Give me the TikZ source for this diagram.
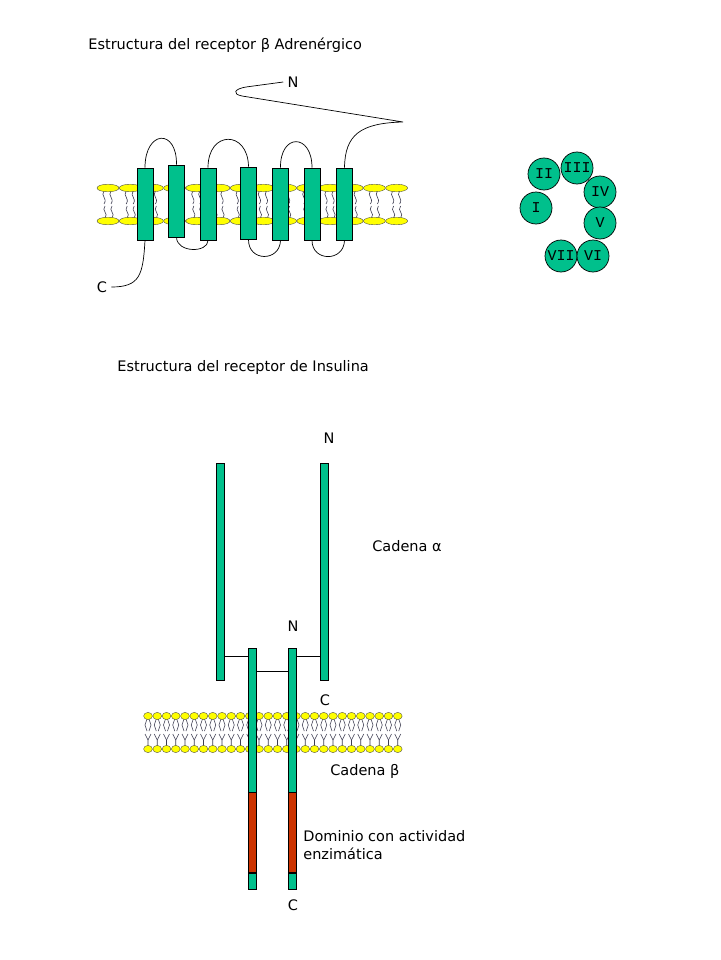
\documentclass[tikz,border=0pt]{standalone}
\usepackage{fontspec}
\setmainfont{DejaVu Sans}
\newfontfamily\numfont{Liberation Mono}
\usetikzlibrary{shapes,positioning}

\definecolor{tmgreen}{RGB}{0,192,140}
\definecolor{kinred}{RGB}{204,51,0}
\definecolor{lipid}{RGB}{255,255,0}
\definecolor{tailgray}{RGB}{60,60,80}

\begin{document}
\begin{tikzpicture}[x=1pt,y=-1pt,line width=0.7pt,
	helix/.style={draw=black,fill=tmgreen,minimum width=16pt,minimum height=72pt,inner sep=0pt},
	chain/.style={draw=black,fill=tmgreen,minimum width=8.5pt,inner sep=0pt},
	tmcircle/.style={draw=black,fill=tmgreen,circle,minimum size=32pt,inner sep=0pt,font=\numfont\fontsize{15}{15}\selectfont},
	head/.style={draw=black!70,fill=lipid,line width=0.4pt},
	tail/.style={draw=tailgray,line width=0.6pt},
	lbl/.style={font=\fontsize{14.5}{18}\selectfont,inner sep=0pt},
	endlbl/.style={lbl,inner sep=4pt}]
	\fill[white] (0,0) rectangle (720,960);
	\useasboundingbox (0,0) rectangle (720,960);

	%% the titles
	\node[lbl,anchor=west] (titleB) at (88,45) {Estructura del receptor β Adrenérgico};
	\node[lbl,anchor=west] (titleI) at (117,367) {Estructura del receptor de Insulina};

	% membrane of the beta receptor
	\foreach \i in {0,...,13}{
		\pgfmathsetmacro\hx{108+22.2*\i}
		\draw[tail] (\hx-4,191) .. controls (\hx-8,196) and (\hx,198) .. (\hx-4,204);
		\draw[tail] (\hx+3,191) .. controls (\hx-1,196) and (\hx+7,198) .. (\hx+3,204);
		\draw[tail] (\hx-3,218) .. controls (\hx+1,213) and (\hx-7,211) .. (\hx-3,206);
		\draw[tail] (\hx+4,218) .. controls (\hx+8,213) and (\hx,211) .. (\hx+4,206);
		\draw[head] (\hx,188) ellipse [x radius=11pt,y radius=3.8pt];
		\draw[head] (\hx,221) ellipse [x radius=11pt,y radius=3.8pt];
	}

	%% the seven helices
	\node[helix] (h1) at (145,204) {};
	\node[helix] (h2) at (176.5,201) {};
	\node[helix] (h3) at (208,204) {};
	\node[helix] (h4) at (248.5,203) {};
	\node[helix] (h5) at (280.5,204) {};
	\node[helix] (h6) at (312,204) {};
	\node[helix] (h7) at (344.5,204) {};

	%% the ends
	\node[endlbl] (nN) at (293,82) {N};
	\node[endlbl] (cC) at (102,287) {C};

	% loops outside
	\draw (h1.north) .. controls (145,130) and (177,128) .. (h2.north);
	\draw (h3.north) .. controls (208,130) and (248,130) .. (h4.north);
	\draw (h5.north) .. controls (280,133) and (312,133) .. (h6.north);
	% loops inside
	\draw (h2.south) .. controls (177,253) and (208,253) .. (h3.south);
	\draw (h4.south) .. controls (248,262) and (280,262) .. (h5.south);
	\draw (h6.south) .. controls (312,262) and (344,262) .. (h7.south);
	% tails
	\draw (h7.north) .. controls (345,135) and (360,123) .. (403,122) -- (242,96)
		.. controls (232,94) and (234,89) .. (246,87) -- (nN.west);
	\draw (h1.south) .. controls (143,275) and (140,287) .. (cC.east);

	%% the helices seen from above
	\node[tmcircle] (cII) at (544,174) {II};
	\node[tmcircle] (cIII) at (577,168) {III};
	\node[tmcircle] (cIV) at (600,192) {IV};
	\node[tmcircle] (cI) at (536,208) {I};
	\node[tmcircle] (cV) at (600,223) {V};
	\node[tmcircle] (cVII) at (561,256) {VII};
	\node[tmcircle] (cVI) at (593,256) {VI};

	% membrane of the insulin receptor
	\foreach \i in {0,...,27}{
		\pgfmathsetmacro\hx{148+9.25*\i}
		\draw[tail] (\hx-1,719) -- (\hx-3,725) -- (\hx-1,731);
		\draw[tail] (\hx+1,719) -- (\hx+3,725) -- (\hx+1,731);
		\draw[tail] (\hx-3,734) -- (\hx,740) -- (\hx,746);
		\draw[tail] (\hx+3,734) -- (\hx,740);
		\draw[head] (\hx,716) ellipse [x radius=4.4pt,y radius=3.6pt];
		\draw[head] (\hx,749) ellipse [x radius=4.4pt,y radius=3.6pt];
	}

	%% alpha chains
	\node[chain,minimum height=217pt] (aL) at (220.5,571.5) {};
	\node[chain,minimum height=217pt] (aR) at (324.5,571.5) {};
	%% beta chains
	\node[chain,minimum height=144pt] (bL) at (252.5,720) {};
	\node[chain,fill=kinred,minimum height=80pt,below=0pt of bL] (kL) {};
	\node[chain,minimum height=16pt,below=0pt of kL] (tL) {};
	\node[chain,minimum height=144pt] (bR) at (292.5,720) {};
	\node[chain,fill=kinred,minimum height=80pt,below=0pt of bR] (kR) {};
	\node[chain,minimum height=16pt,below=0pt of kR] (tR) {};

	% disulfide bridges
	\coordinate (sL) at ([yshift=24pt]aL.south east);
	\coordinate (sR) at ([yshift=24pt]aR.south west);
	\coordinate (sB) at ([yshift=-24pt]bL.north east);
	\draw (sL) -- (sL -| bL.west);
	\draw (sR) -- (sR -| bR.east);
	\draw (sB) -- (sB -| bR.west);

	%% the labels
	\node[lbl] (nA) at (329,438) {N};
	\node[lbl,anchor=west] (cadA) at (372,546) {Cadena α};
	\node[lbl] (nB) at (293,626) {N};
	\node[lbl] (cA) at (325,700) {C};
	\node[lbl,anchor=west] (cadB) at (330,771) {Cadena β};
	\node[lbl,anchor=west,align=left] (dom) at (303,845) {Dominio con actividad\\enzimática};
	\node[lbl] (cB) at (293,905) {C};
\end{tikzpicture}
\end{document}
